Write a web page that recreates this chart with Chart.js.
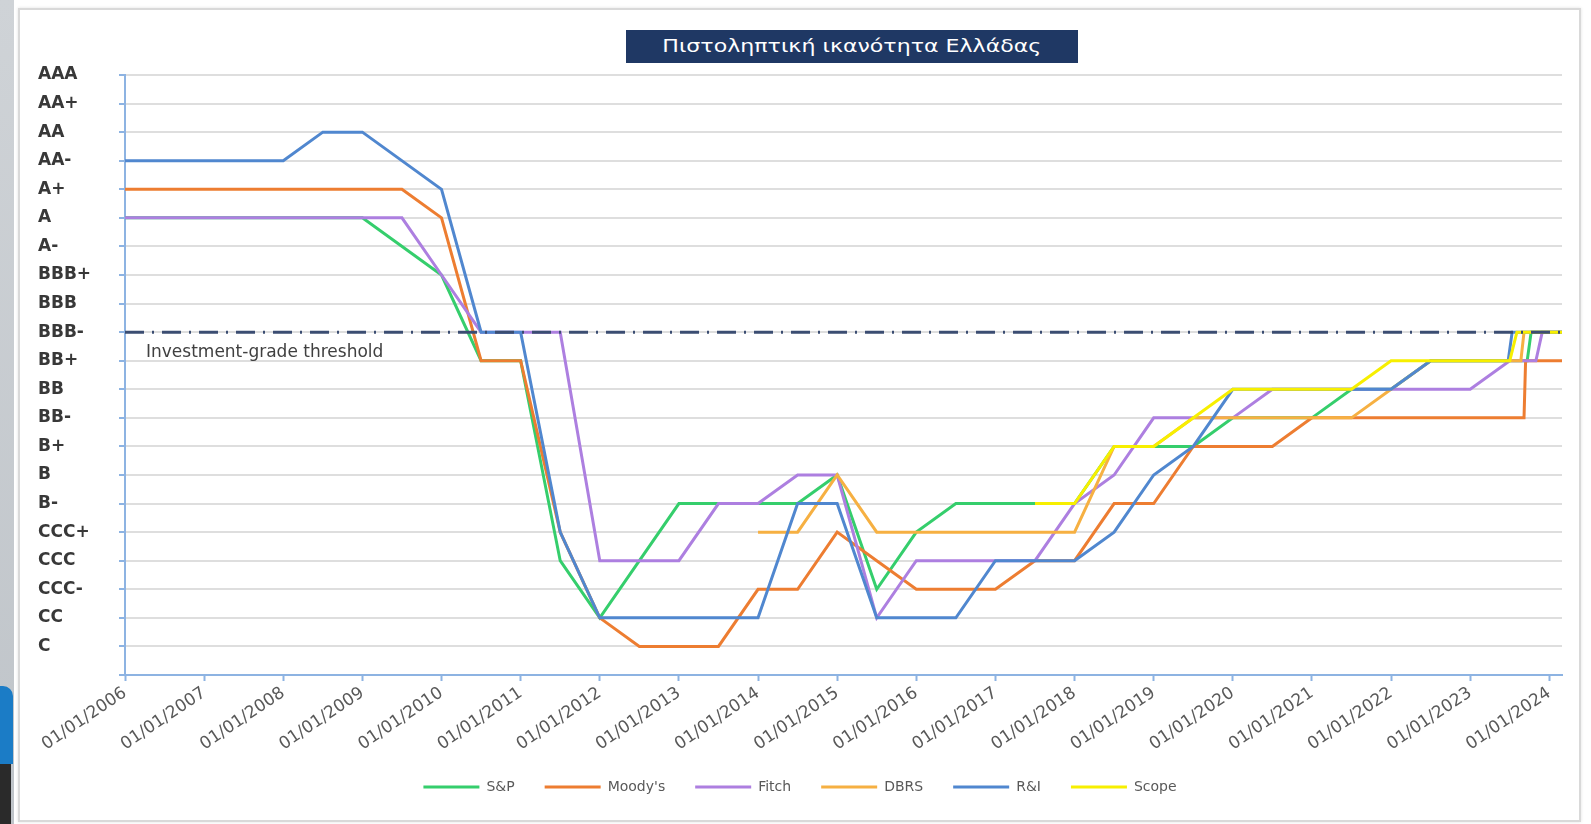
<!DOCTYPE html>
<html>
<head>
<meta charset="utf-8">
<title>Πιστοληπτική ικανότητα Ελλάδας</title>
<script src="https://cdn.jsdelivr.net/npm/chart.js@4.4.1/dist/chart.umd.min.js"></script>
<style>
    html, body { margin: 0; padding: 0; background: #fff; }
    body { position: relative; width: 1591px; height: 824px; overflow: hidden; font-family: "DejaVu Sans", sans-serif; }
    #strip { position: absolute; left: 0; top: 0; width: 14px; height: 824px; background: linear-gradient(#cfd3d7, #bfc4c9); }
    #strip-blue { position: absolute; left: 0; top: 686px; width: 13px; height: 78px; background: #1b7cc6; border-top-right-radius: 10px; }
    #strip-dark { position: absolute; left: 0; top: 764px; width: 11px; height: 60px; background: #2a2a2a; }
    #frame { position: absolute; left: 18px; top: 8px; width: 1559px; height: 810px; border: 2px solid #d9d9d9; background: #fff; box-shadow: 0 0 3px rgba(0,0,0,0.12); }
    #chart { position: absolute; left: 0; top: 0; }
    #title { position: absolute; left: 626px; top: 30px; width: 452px; height: 33px; background: #1f3864; color: #fff;
             font-size: 17px; line-height: 33px; text-align: center; z-index: 2; }
    #title span { display: inline-block; transform: scaleX(1.3); }
</style>
</head>
<body>
<div id="strip"></div>
<div id="strip-blue"></div>
<div id="strip-dark"></div>
<div id="frame"></div>
<canvas id="chart" width="1591" height="824"></canvas>
<div id="title"><span>Πιστοληπτική ικανότητα Ελλάδας</span></div>

<script>
    // rating scale, index = value on the y axis
    const ratingLabels = ['', 'C', 'CC', 'CCC-', 'CCC', 'CCC+', 'B-', 'B', 'B+', 'BB-', 'BB', 'BB+',
        'BBB-', 'BBB', 'BBB+', 'A-', 'A', 'A+', 'AA-', 'AA', 'AA+', 'AAA'];
    const yearTicks = [2006, 2007, 2008, 2009, 2010, 2011, 2012, 2013, 2014, 2015,
        2016, 2017, 2018, 2019, 2020, 2021, 2022, 2023, 2024];
    const lastDate = 2024.16;

    const agencies = ['S&P', "Moody's", 'Fitch', 'DBRS', 'R&I', 'Scope'];

    const spDates = [2006, 2009, 2010, 2010.5, 2011, 2011.5, 2012, 2013, 2014.5, 2015, 2015.5, 2016, 2016.5,
        2018, 2018.5, 2019.5, 2020, 2021, 2021.5, 2022, 2022.5, 2023.72, 2023.77, 2024.16];
    const spRatings = ['A', 'A', 'BBB+', 'BB+', 'BB+', 'CCC', 'CC', 'B-', 'B-', 'B', 'CCC-', 'CCC+', 'B-',
        'B-', 'B+', 'B+', 'BB-', 'BB-', 'BB', 'BB', 'BB+', 'BB+', 'BBB-', 'BBB-'];

    const moodysDates = [2006, 2009.5, 2010, 2010.5, 2011, 2011.5, 2012, 2012.5, 2013.5, 2014, 2014.5, 2015,
        2015.5, 2016, 2017, 2017.5, 2018, 2018.5, 2019, 2019.5, 2020.5, 2021, 2023.68, 2023.7, 2024.16];
    const moodysRatings = ['A+', 'A+', 'A', 'BB+', 'BB+', 'CCC+', 'CC', 'C', 'C', 'CCC-', 'CCC-', 'CCC+',
        'CCC', 'CCC-', 'CCC-', 'CCC', 'CCC', 'B-', 'B-', 'B+', 'B+', 'BB-', 'BB-', 'BB+', 'BB+'];

    const fitchDates = [2006, 2009.5, 2010, 2010.5, 2011.5, 2012, 2013, 2013.5, 2014, 2014.5, 2015, 2015.5,
        2016, 2017.5, 2018, 2018.5, 2019, 2020, 2020.5, 2023, 2023.5, 2023.83, 2023.91, 2024.16];
    const fitchRatings = ['A', 'A', 'BBB+', 'BBB-', 'BBB-', 'CCC', 'CCC', 'B-', 'B-', 'B', 'B', 'CC',
        'CCC', 'CCC', 'B-', 'B', 'BB-', 'BB-', 'BB', 'BB', 'BB+', 'BB+', 'BBB-', 'BBB-'];

    const dbrsDates = [2014, 2014.5, 2015, 2015.5, 2018, 2018.5, 2019, 2019.5, 2021.5, 2022, 2022.5,
        2023.64, 2023.68, 2024.16];
    const dbrsRatings = ['CCC+', 'CCC+', 'B', 'CCC+', 'CCC+', 'B+', 'B+', 'BB-', 'BB-', 'BB', 'BB+',
        'BB+', 'BBB-', 'BBB-'];

    const riDates = [2006, 2008, 2008.5, 2009, 2010, 2010.5, 2011, 2011.5, 2012, 2014, 2014.5, 2015, 2015.5,
        2016.5, 2017, 2018, 2018.5, 2019, 2019.5, 2020, 2022, 2022.5, 2023.48, 2023.53, 2024.16];
    const riRatings = ['AA-', 'AA-', 'AA', 'AA', 'A+', 'BBB-', 'BBB-', 'CCC+', 'CC', 'CC', 'B-', 'B-', 'CC',
        'CC', 'CCC', 'CCC', 'CCC+', 'B', 'B+', 'BB', 'BB', 'BB+', 'BB+', 'BBB-', 'BBB-'];

    const scopeDates = [2017.5, 2018, 2018.5, 2019, 2020, 2021.5, 2022, 2023.5, 2023.59, 2024.16];
    const scopeRatings = ['B-', 'B-', 'B+', 'B+', 'BB', 'BB', 'BB+', 'BB+', 'BBB-', 'BBB-'];

    const thresholdRating = 'BBB-';
    const thresholdText = 'Investment-grade threshold';

    const axisBlue = '#8db3e2';
    const gridGrey = '#dedede';

    function points(dates, ratings) {
        return dates.map(function (d, i) {
            return { x: d, y: ratingLabels.indexOf(ratings[i]) };
        });
    }

    function agency(i, dates, ratings, color) {
        return {
            label: agencies[i],
            data: points(dates, ratings),
            borderColor: color,
            backgroundColor: color,
            borderWidth: 3,
            pointRadius: 0,
            tension: 0,
            order: agencies.length - i
        };
    }

    const thresholdLevel = ratingLabels.indexOf(thresholdRating);

    const thresholdLabel = {
        id: 'thresholdLabel',
        afterDatasetsDraw: function (chart) {
            const ctx = chart.ctx;
            const x = chart.scales.x, y = chart.scales.y;
            ctx.save();
            ctx.font = '17px "DejaVu Sans"';
            ctx.fillStyle = '#404040';
            ctx.textBaseline = 'middle';
            ctx.fillText(thresholdText, x.getPixelForValue(yearTicks[0]) + 21, y.getPixelForValue(thresholdLevel - 0.72));
            ctx.restore();
        }
    };

    Chart.defaults.font.family = '"DejaVu Sans", sans-serif';

    new Chart(document.getElementById('chart'), {
        type: 'line',
        data: {
            datasets: [
                {
                    label: thresholdText,
                    data: [{ x: yearTicks[0], y: thresholdLevel }, { x: lastDate, y: thresholdLevel }],
                    borderColor: '#3b4d72',
                    borderWidth: 3,
                    borderDash: [19, 8, 2, 8],
                    pointRadius: 0,
                    order: 0
                },
                agency(0, spDates, spRatings, '#35ce6c'),
                agency(1, moodysDates, moodysRatings, '#ed7d31'),
                agency(2, fitchDates, fitchRatings, '#ad7fe0'),
                agency(3, dbrsDates, dbrsRatings, '#f6b042'),
                agency(4, riDates, riRatings, '#5087cf'),
                agency(5, scopeDates, scopeRatings, '#f7ef00')
            ]
        },
        options: {
            responsive: false,
            animation: false,
            layout: { padding: { left: 38, right: 29, top: 75, bottom: 20 } },
            scales: {
                x: {
                    type: 'linear',
                    min: yearTicks[0],
                    max: lastDate,
                    afterBuildTicks: function (scale) {
                        scale.ticks = yearTicks.map(function (v) { return { value: v }; });
                    },
                    afterFit: function (scale) { scale.height = 75; },
                    grid: { drawOnChartArea: false, drawTicks: true, tickLength: 6, tickColor: axisBlue, tickWidth: 2 },
                    border: { color: axisBlue, width: 2 },
                    ticks: {
                        minRotation: 34,
                        maxRotation: 34,
                        autoSkip: false,
                        padding: 2,
                        color: '#595959',
                        font: { size: 17 },
                        callback: function (v) { return '01/01/' + v; }
                    }
                },
                y: {
                    min: 0,
                    max: ratingLabels.length - 1,
                    afterFit: function (scale) { scale.width = 87; },
                    grid: { color: gridGrey, lineWidth: 2, tickLength: 6, tickColor: axisBlue, tickWidth: 2 },
                    border: { color: axisBlue, width: 2 },
                    ticks: {
                        stepSize: 1,
                        autoSkip: false,
                        crossAlign: 'far',
                        color: '#383838',
                        font: { size: 17, weight: 'bold' },
                        callback: function (v) { return ratingLabels[v]; }
                    }
                }
            },
            plugins: {
                title: { display: false },
                tooltip: { enabled: false },
                legend: {
                    position: 'bottom',
                    labels: {
                        usePointStyle: true,
                        pointStyle: 'line',
                        pointStyleWidth: 56,
                        padding: 30,
                        color: '#595959',
                        font: { size: 14 },
                        filter: function (item) { return item.text !== thresholdText; },
                        sort: function (a, b) { return a.datasetIndex - b.datasetIndex; }
                    }
                }
            }
        },
        plugins: [thresholdLabel]
    });
</script>
</body>
</html>
